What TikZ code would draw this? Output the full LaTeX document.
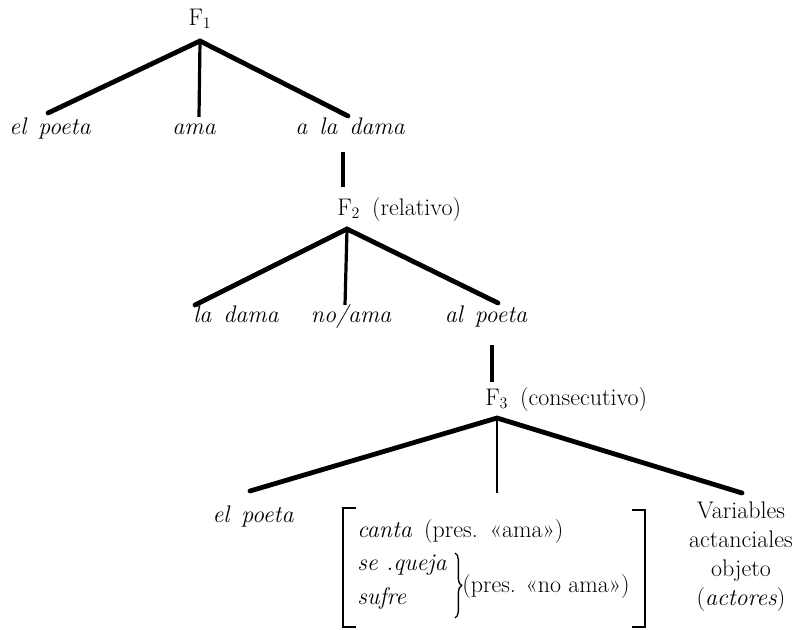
\documentclass[tikz,border=0pt]{standalone}
\usepackage{fontspec}
\usetikzlibrary{decorations.pathreplacing}
\newcommand{\wsp}{\hspace{0.5em}}
\begin{document}
\begin{tikzpicture}[x=0.75pt,y=-0.75pt,
  lbl/.style={font=\fontsize{18}{21}\selectfont, inner sep=0pt},
  word/.style={font=\fontsize{18}{21}\selectfont\itshape, inner sep=0pt, anchor=base},
  branch/.style={line width=3.6pt, line cap=round},
  stem/.style={line width=2.4pt},
  link/.style={line width=2.6pt},
  brk/.style={line width=2.2pt},
  curly/.style={line width=1pt, decorate, decoration={brace, amplitude=5pt}}]
\useasboundingbox (0,0) rectangle (799,629);

% ---- first sentence F1 ----
\node[lbl, anchor=base] (f1) at (200,25) {F$_1$};
\coordinate (f1a) at (200,41);
\coordinate (f1l) at (48,113);
\coordinate (f1m) at (199,117);
\coordinate (f1r) at (348,116);
\draw[branch] (f1l) -- (f1a) -- (f1r);
\draw[stem] (f1a) -- (f1m);
\node[word] (s1) at (50,134) {el\wsp poeta};
\node[word] (v1) at (194,134) {ama};
\node[word] (o1) at (350,134) {a\wsp la\wsp dama};

% ---- embedded relative F2 ----
\coordinate (k1t) at (343,152);
\coordinate (k1b) at (343,187);
\draw[link] (k1t) -- (k1b);
\node[lbl, anchor=base west] (f2) at (337,215) {F$_2$\wsp(relativo)};
\coordinate (f2a) at (347,229);
\coordinate (f2l) at (195,305);
\coordinate (f2m) at (345,305);
\coordinate (f2r) at (498,303);
\draw[branch] (f2l) -- (f2a) -- (f2r);
\draw[stem] (f2a) -- (f2m);
\node[word] (s2) at (236,322) {la\wsp dama};
\node[word] (v2) at (351,322) {no/ama};
\node[word] (o2) at (486,322) {al\wsp poeta};

% ---- consecutive F3 ----
\coordinate (k2t) at (492,345);
\coordinate (k2b) at (492,382);
\draw[link] (k2t) -- (k2b);
\node[lbl, anchor=base west] (f3) at (485,405) {F$_3$\wsp(consecutivo)};
\coordinate (f3a) at (497,418);
\coordinate (f3l) at (250,491);
\coordinate (f3m) at (497,493);
\coordinate (f3r) at (742,493);
\draw[branch] (f3l) -- (f3a) -- (f3r);
\draw[line width=1.6pt] (f3a) -- (f3m);
\node[word] (s3) at (253,522) {el\wsp poeta};

% bracketed predicate alternatives
\draw[brk] (356,508) -- (343,508) -- (343,627) -- (356,627);
\draw[brk] (632,510) -- (645,510) -- (645,627) -- (632,627);
\node[lbl, anchor=base west] (p1) at (357,537) {\textit{canta}\wsp(pres.\wsp«ama»)};
\node[word, anchor=base west] (p2) at (357,570) {se .queja};
\node[word, anchor=base west] (p3) at (357,604) {sufre};
\coordinate (bt) at (455,553);
\coordinate (bb) at (455,618);
\draw[curly] (bt) -- (bb);
\node[lbl, anchor=base west] (p4) at (462,592) {(pres. «no ama»)};

% object actants
\node[lbl, anchor=north, align=center,
      font=\fontsize{18}{21.75}\selectfont] (o3) at (741,502)
  {Variables\\actanciales\\objeto\\(\textit{actores})};
\end{tikzpicture}
\end{document}
